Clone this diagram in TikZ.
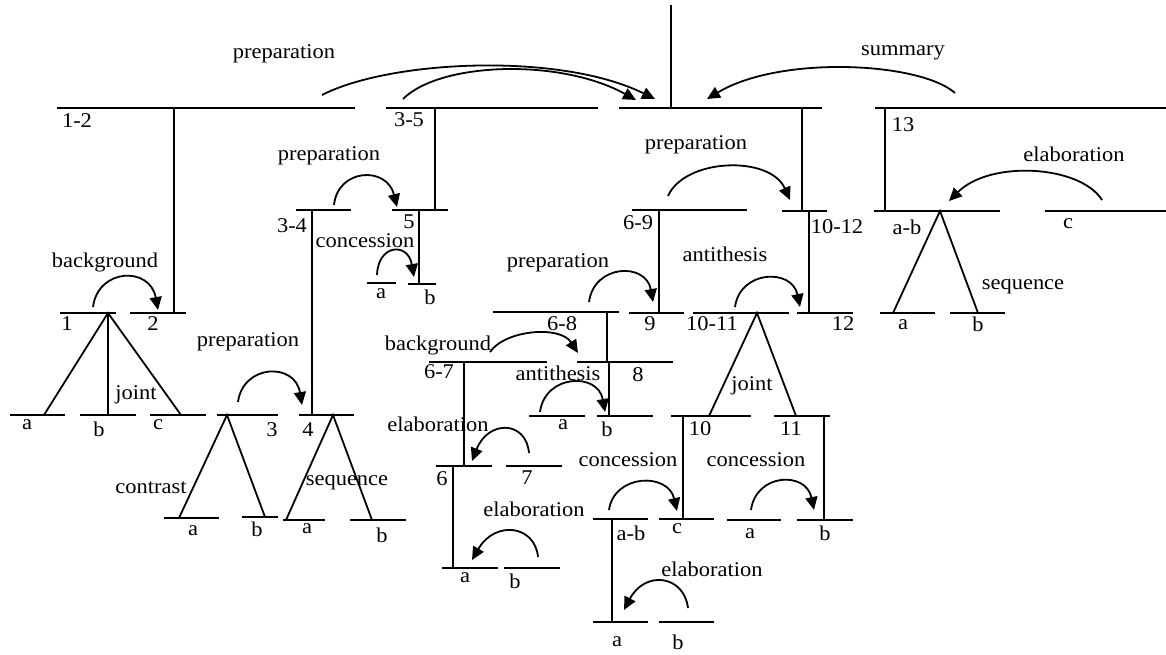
\documentclass[tikz,border=0pt]{standalone}
\usepackage{fontspec}
\setmainfont{Liberation Serif}[FakeStretch=1.07]
\usetikzlibrary{arrows.meta}
\tikzset{
  seg/.style={line width=1.8pt},
  rel/.style={line width=1.8pt,-{Triangle[length=13pt,width=12pt]}},
  lbl/.style={inner sep=0pt,font=\fontsize{21}{24}\selectfont}
}
\begin{document}
\begin{tikzpicture}[x=1pt,y=-1pt]
\useasboundingbox (0,0) rectangle (1166,655);
% ---------- horizontal span lines ----------
\draw[seg] (57,108)--(355,108) (386,108)--(598,108) (619,108)--(822,108) (875,108)--(1166,108);
\draw[seg] (296,210)--(351,210) (392,210)--(448,210) (632,210)--(747,210) (782,211)--(827,211)
           (874,211)--(1000,211) (1045,211)--(1166,211);
\draw[seg] (367,283)--(396,283) (408,284)--(436,284);
\draw[seg] (60,313)--(116,313) (130,313)--(186,313) (493,312)--(619,312) (629,313)--(684,313)
           (693,313)--(789,313) (797,313)--(853,313) (880,313)--(935,313) (950,313)--(1005,313);
\draw[seg] (429,362)--(547,362) (577,362)--(673,362);
\draw[seg] (10,415)--(65,415) (80,415)--(136,415) (150,415)--(206,415) (217,415)--(278,415)
           (299,415)--(354,415) (529,416)--(585,416) (597,416)--(653,416) (671,416)--(751,416)
           (774,416)--(830,416);
\draw[seg] (436,466)--(492,466) (506,466)--(562,466);
\draw[seg] (164,518)--(219,518) (242,517)--(278,517) (283,520)--(325,520) (350,520)--(406,520)
           (593,519)--(648,519) (659,519)--(714,519) (727,520)--(781,520) (797,520)--(853,520);
\draw[seg] (442,568)--(498,568) (504,568)--(560,568) (593,622)--(648,622) (659,622)--(714,622);
% ---------- vertical links ----------
\draw[seg] (671,5)--(671,108) (174,108)--(174,313) (435,108)--(435,210) (802,108)--(802,211)
           (885,108)--(885,211) (312,210)--(312,415) (419,210)--(419,284) (659,210)--(659,313)
           (809,211)--(809,313) (607,312)--(607,362) (609,362)--(609,416) (464,362)--(464,466)
           (453,466)--(453,568) (683,416)--(683,519) (824,416)--(824,520) (612,519)--(612,622)
           (108,313)--(108,415);
% ---------- multinuclear fans ----------
\draw[seg] (44,415)--(108,313)--(181,415);
\draw[seg] (179,518)--(227,415)--(265,517);
\draw[seg] (286,520)--(333,415)--(372,520);
\draw[seg] (709,416)--(757,313)--(796,416);
\draw[seg] (893,313)--(940,211)--(978,313);
% ---------- relation arcs ----------
\coordinate (s1) at (322,95);   \coordinate (t1) at (655,99);
\coordinate (s2) at (403,99);   \coordinate (t2) at (636,100);
\coordinate (s3) at (955,93);   \coordinate (t3) at (707,99);
\coordinate (s4) at (1102,200); \coordinate (t4) at (949,201);
\coordinate (s5) at (334,205);  \coordinate (t5) at (397,207);
\coordinate (s6) at (377,275);  \coordinate (t6) at (414,277);
\coordinate (s7) at (93,307);   \coordinate (t7) at (158,310);
\coordinate (s8) at (238,402);  \coordinate (t8) at (302,405);
\coordinate (s9) at (668,196);  \coordinate (t9) at (790,200);
\coordinate (s10) at (735,307); \coordinate (t10) at (800,307);
\coordinate (s11) at (589,302); \coordinate (t11) at (653,302);
\coordinate (s12) at (490,352); \coordinate (t12) at (578,353);
\coordinate (s13) at (540,412); \coordinate (t13) at (605,412);
\coordinate (s14) at (529,453); \coordinate (t14) at (472,461);
\coordinate (s15) at (538,557); \coordinate (t15) at (472,560);
\coordinate (s16) at (609,510); \coordinate (t16) at (677,511);
\coordinate (s17) at (751,510); \coordinate (t17) at (814,510);
\coordinate (s18) at (688,608); \coordinate (t18) at (624,610);
\draw[rel] (s1) .. controls (390,60) and (560,52) .. (t1);
\draw[rel] (s2) .. controls (440,62) and (560,58) .. (t2);
\draw[rel] (s3) .. controls (920,62) and (780,55) .. (t3);
\draw[rel] (s4) .. controls (1080,165) and (990,160) .. (t4);
\draw[rel] (s5) .. controls (338,168) and (387,166) .. (t5);
\draw[rel] (s6) .. controls (378,244) and (408,242) .. (t6);
\draw[rel] (s7) .. controls (98,268) and (150,266) .. (t7);
\draw[rel] (s8) .. controls (243,364) and (295,362) .. (t8);
\draw[rel] (s9) .. controls (685,158) and (770,155) .. (t9);
\draw[rel] (s10) .. controls (740,270) and (792,268) .. (t10);
\draw[rel] (s11) .. controls (594,264) and (646,262) .. (t11);
\draw[rel] (s12) .. controls (505,330) and (560,325) .. (t12);
\draw[rel] (s13) .. controls (545,374) and (598,372) .. (t13);
\draw[rel] (s14) .. controls (526,420) and (488,420) .. (t14);
\draw[rel] (s15) .. controls (535,525) and (495,520) .. (t15);
\draw[rel] (s16) .. controls (614,474) and (668,472) .. (t16);
\draw[rel] (s17) .. controls (756,473) and (806,471) .. (t17);
\draw[rel] (s18) .. controls (684,575) and (645,570) .. (t18);
% ---------- labels ----------
\node[lbl] (L1) at (284,54) {preparation};
\node[lbl] (L2) at (903,53) {summary};
\node[lbl] (L3) at (77,121) {1-2};
\node[lbl] (L4) at (409,120) {3-5};
\node[lbl] (L5) at (903,125) {13};
\node[lbl] (L6) at (329,156) {preparation};
\node[lbl] (L7) at (292,226) {3-4};
\node[lbl] (L8) at (409,222) {5};
\node[lbl] (L9) at (365,241) {concession};
\node[lbl] (L10) at (381,294) {a};
\node[lbl] (L11) at (430,297) {b};
\node[lbl] (L12) at (696,145) {preparation};
\node[lbl] (L13) at (638,223) {6-9};
\node[lbl] (L14) at (837,227) {10-12};
\node[lbl] (L15) at (725,254) {antithesis};
\node[lbl] (L16) at (1074,154) {elaboration};
\node[lbl] (L17) at (907,227) {a-b};
\node[lbl] (L18) at (1068,224) {c};
\node[lbl] (L19) at (1023,287) {sequence};
\node[lbl] (L20) at (903,325) {a};
\node[lbl] (L21) at (978,324) {b};
\node[lbl] (L22) at (105,262) {background};
\node[lbl] (L23) at (67,324) {1};
\node[lbl] (L24) at (153,324) {2};
\node[lbl] (L25) at (136,395) {joint};
\node[lbl] (L26) at (27,425) {a};
\node[lbl] (L27) at (99,429) {b};
\node[lbl] (L28) at (158,425) {c};
\node[lbl] (L29) at (248,342) {preparation};
\node[lbl] (L30) at (272,430) {3};
\node[lbl] (L31) at (308,430) {4};
\node[lbl] (L32) at (151,488) {contrast};
\node[lbl] (L33) at (193,531) {a};
\node[lbl] (L34) at (257,529) {b};
\node[lbl] (L35) at (347,483) {sequence};
\node[lbl] (L36) at (307,529) {a};
\node[lbl] (L37) at (382,535) {b};
\node[lbl] (L38) at (558,263) {preparation};
\node[lbl] (L39) at (562,324) {6-8};
\node[lbl] (L40) at (650,324) {9};
\node[lbl] (L41) at (712,324) {10-11};
\node[lbl] (L42) at (843,324) {12};
\node[lbl] (L43) at (438,345) {background};
\node[lbl] (L44) at (439,372) {6-7};
\node[lbl] (L45) at (558,373) {antithesis};
\node[lbl] (L46) at (638,375) {8};
\node[lbl] (L47) at (752,386) {joint};
\node[lbl] (L48) at (563,425) {a};
\node[lbl] (L49) at (607,429) {b};
\node[lbl] (L50) at (700,429) {10};
\node[lbl] (L51) at (791,429) {11};
\node[lbl] (L52) at (438,424) {elaboration};
\node[lbl] (L53) at (442,479) {6};
\node[lbl] (L54) at (527,478) {7};
\node[lbl] (L55) at (534,509) {elaboration};
\node[lbl] (L56) at (465,578) {a};
\node[lbl] (L57) at (515,581) {b};
\node[lbl] (L58) at (628,460) {concession};
\node[lbl] (L59) at (756,460) {concession};
\node[lbl] (L60) at (631,533) {a-b};
\node[lbl] (L61) at (677,529) {c};
\node[lbl] (L62) at (750,534) {a};
\node[lbl] (L63) at (825,533) {b};
\node[lbl] (L64) at (712,569) {elaboration};
\node[lbl] (L65) at (617,642) {a};
\node[lbl] (L66) at (678,642) {b};
\end{tikzpicture}
\end{document}
